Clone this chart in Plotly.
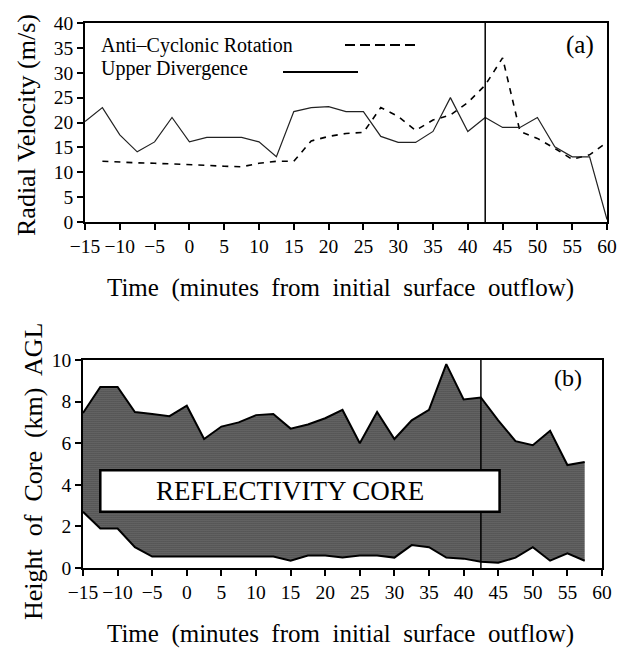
import plotly.graph_objects as go

# ---------- Panel (a) data ----------
div_t = [-15, -12.5, -10, -7.5, -5, -2.5, 0, 2.5, 5, 7.5, 10, 12.5, 15, 17.5, 20, 22.5, 25,
         27.5, 30, 32.5, 35, 37.5, 40, 42.5, 45, 47.5, 50, 52.5, 55, 57.5, 60]
div_v = [20.2, 23.0, 17.5, 14.1, 16.1, 21.0, 16.1, 17.0, 17.0, 17.0, 16.1, 13.1, 22.2, 23.0, 23.2, 22.2, 22.2,
         17.2, 16.0, 16.0, 18.2, 25.0, 18.2, 21.0, 19.0, 19.0, 21.0, 15.1, 13.1, 13.1, 0.5]

rot_t = [-12.5, -10, -7.5, -5, -2.5, 0, 2.5, 5, 7.5, 10, 12.5, 15, 17.5, 20, 22.5, 25,
         27.5, 30, 32.5, 35, 37.5, 40, 42.5, 45, 47.5, 50, 52.5, 55, 57.5, 60]
rot_v = [12.2, 12.0, 11.9, 11.8, 11.7, 11.6, 11.4, 11.2, 11.1, 11.8, 12.2, 12.2, 16.3, 17.2, 17.8, 18.0,
         23.0, 21.2, 18.4, 20.5, 21.5, 24.0, 27.5, 33.0, 18.2, 16.8, 14.8, 12.6, 13.5, 16.0]

# ---------- Panel (b) data ----------
core_t = [-15, -12.5, -10, -7.5, -5, -2.5, 0, 2.5, 5, 7.5, 10, 12.5, 15, 17.5, 20, 22.5, 25,
          27.5, 30, 32.5, 35, 37.5, 40, 42.5, 45, 47.5, 50, 52.5, 55, 57.5]
core_top = [7.45, 8.7, 8.7, 7.5, 7.4, 7.3, 7.8, 6.2, 6.8, 7.0, 7.35, 7.4, 6.7, 6.9, 7.2, 7.6, 6.0,
            7.5, 6.2, 7.1, 7.6, 9.8, 8.1, 8.2, 7.1, 6.1, 5.9, 6.6, 4.95, 5.1]
core_bot = [2.7, 1.9, 1.9, 1.0, 0.55, 0.55, 0.55, 0.55, 0.55, 0.55, 0.55, 0.55, 0.35, 0.6, 0.6, 0.5, 0.6,
            0.6, 0.5, 1.1, 1.0, 0.5, 0.45, 0.3, 0.25, 0.5, 1.0, 0.35, 0.7, 0.35]

x_ticks = [-15, -10, -5, 0, 5, 10, 15, 20, 25, 30, 35, 40, 45, 50, 55, 60]
x_ticktext = ["\u221215", "\u221210", "\u22125", "0", "5", "10", "15", "20", "25", "30", "35", "40",
              "45", "50", "55", "60"]
ya_ticks = [0, 5, 10, 15, 20, 25, 30, 35, 40]
yb_ticks = [0, 2, 4, 6, 8, 10]
event_time = 42.5
label_box = dict(x0=-12.5, x1=45.2, y0=2.7, y1=4.7)

FONT = "Liberation Serif"
W, H = 628, 648

fig = go.Figure()

# panel (a)
fig.add_trace(go.Scatter(x=rot_t, y=rot_v, mode="lines", xaxis="x", yaxis="y",
                         line=dict(color="black", width=1.6, dash="6px,6px"), showlegend=False))
fig.add_trace(go.Scatter(x=div_t, y=div_v, mode="lines", xaxis="x", yaxis="y",
                         line=dict(color="#222", width=1.2), showlegend=False))

# panel (b)
fig.add_trace(go.Scatter(x=core_t, y=core_bot, mode="lines", xaxis="x2", yaxis="y2",
                         line=dict(color="black", width=2), showlegend=False))
fig.add_trace(go.Scatter(x=core_t, y=core_top, mode="lines", xaxis="x2", yaxis="y2",
                         fill="tonexty", fillcolor="#6e6e6e",
                         fillpattern=dict(shape=".", fgcolor="#2e2e2e", bgcolor="#8e8e8e",
                                          size=2, solidity=0.6),
                         line=dict(color="black", width=2), showlegend=False))

def px_x(p):
    return p / W

def px_y(p):
    return 1 - p / H

axis_common = dict(showgrid=False, zeroline=False, showline=True, linecolor="black", linewidth=1.5,
                   mirror=True, ticks="outside", ticklen=6, tickwidth=1.5, tickcolor="black",
                   automargin=False,
                   tickfont=dict(family=FONT, size=19.5, color="black"))

fig.update_layout(
    template="none",
    width=W, height=H, margin=dict(l=0, r=0, t=0, b=0),
    paper_bgcolor="white", plot_bgcolor="white",
    xaxis=dict(domain=[px_x(85), px_x(607)], range=[-15, 60], anchor="y",
               tickvals=x_ticks, ticktext=x_ticktext, **axis_common),
    yaxis=dict(domain=[px_y(222), px_y(23)], range=[0, 40], anchor="x",
               tickvals=ya_ticks, **axis_common),
    xaxis2=dict(domain=[px_x(83), px_x(602)], range=[-15, 60], anchor="y2",
                tickvals=x_ticks, ticktext=x_ticktext, **axis_common),
    yaxis2=dict(domain=[px_y(568), px_y(360)], range=[0, 10], anchor="x2",
                tickvals=yb_ticks, **axis_common),
)

# vertical event lines
fig.add_shape(type="line", xref="x", yref="y", x0=event_time, x1=event_time, y0=0, y1=40,
              line=dict(color="black", width=1.5))
fig.add_shape(type="line", xref="x2", yref="y2", x0=event_time, x1=event_time, y0=0, y1=10,
              line=dict(color="black", width=1.5))

# reflectivity label box
fig.add_shape(type="rect", xref="x2", yref="y2", **label_box,
              fillcolor="white", line=dict(color="black", width=2.5))
fig.add_annotation(x=(label_box["x0"] + label_box["x1"]) / 2 - 1.5, y=(label_box["y0"] + label_box["y1"]) / 2,
                   xref="x2", yref="y2", text="REFLECTIVITY CORE", showarrow=False,
                   xanchor="center", yanchor="middle",
                   font=dict(family=FONT, size=27, color="black"))

def note(x, y, text, size, angle=0, xanchor="center"):
    fig.add_annotation(x=px_x(x), y=px_y(y), xref="paper", yref="paper", text=text, showarrow=False,
                       textangle=angle, xanchor=xanchor, yanchor="middle", borderpad=0,
                       font=dict(family=FONT, size=size, color="black"))

# legend (manual)
note(100, 46, "Anti\u2013Cyclonic Rotation", 20, xanchor="left")
note(100, 68, "Upper Divergence", 20, xanchor="left")
fig.add_shape(type="line", xref="paper", yref="paper", x0=px_x(345), x1=px_x(415), y0=px_y(45), y1=px_y(45),
              line=dict(color="black", width=2, dash="10px,5px"))
fig.add_shape(type="line", xref="paper", yref="paper", x0=px_x(283), x1=px_x(358), y0=px_y(72), y1=px_y(72),
              line=dict(color="black", width=2))

# panel labels
note(580, 45, "(a)", 25)
note(568, 378, "(b)", 24)

# axis titles
note(27, 125, "Radial Velocity (m/s)", 26, angle=-90)
note(33, 471, "Height  of  Core  (km)  AGL", 26, angle=-90)
note(340, 288, "Time  (minutes  from  initial  surface  outflow)", 25)
note(340, 634, "Time  (minutes  from  initial  surface  outflow)", 25)

fig.write_html("out.html", post_script="document.body.style.margin='0px';",
               config={"displayModeBar": False})
